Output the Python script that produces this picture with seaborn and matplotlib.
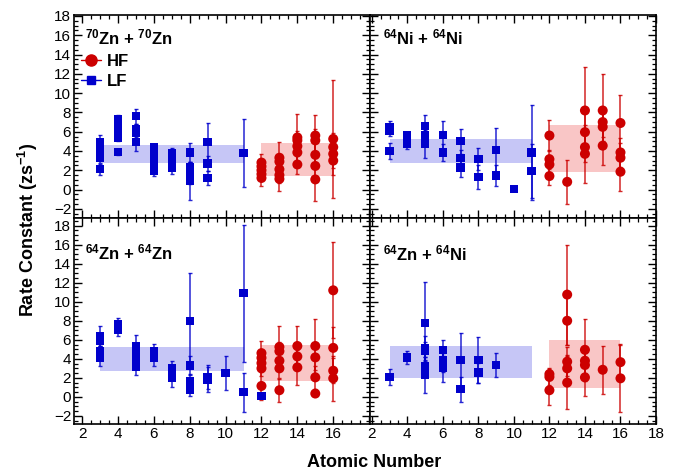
import numpy as np
import pandas as pd
import matplotlib
matplotlib.use("Agg")
import matplotlib.pyplot as plt
from matplotlib.ticker import MultipleLocator
from matplotlib.lines import Line2D
import seaborn as sns

# ---------------- data ----------------
BAND_X_LF = [3, 11]
BAND_X_HF = [12, 16]

# 70Zn + 70Zn
ZN70_LF_X = [3, 3, 3, 3, 3, 4, 4, 4, 4, 4, 4, 5, 5, 5, 5, 6, 6, 6, 6, 6, 6, 7, 7, 7, 7, 8, 8, 8, 8, 8, 9, 9, 9, 11]
ZN70_LF_Y = [4.9, 4.4, 3.7, 3.3, 2.1, 7.3, 6.8, 6.2, 5.7, 5.4, 3.9, 7.6, 6.3, 5.9, 4.9, 4.4, 4.0, 3.5, 3.0, 2.4, 1.9,
             3.8, 3.3, 2.8, 2.3, 3.85, 2.3, 1.75, 1.2, 0.9, 4.9, 2.7, 1.2, 3.8]
ZN70_LF_E = [0.8, 0.5, 0.5, 0.5, 0.6, 0.4, 0.4, 0.4, 0.4, 0.4, 0.3, 0.8, 0.5, 0.5, 0.9, 0.3, 0.4, 0.4, 0.4, 0.4, 0.5,
             0.5, 0.5, 0.5, 0.7, 0.95, 0.6, 1.0, 0.6, 1.95, 2.0, 0.8, 0.7, 3.5]
ZN70_HF_X = [12, 12, 12, 12, 12, 13, 13, 13, 13, 13, 14, 14, 14, 14, 14, 15, 15, 15, 15, 15, 16, 16, 16, 16]
ZN70_HF_Y = [2.8, 2.4, 2.0, 1.6, 1.2, 3.3, 2.9, 2.1, 1.5, 1.1, 5.4, 5.1, 4.5, 3.85, 2.6, 5.6, 5.1, 3.6, 2.45, 1.05,
             5.25, 4.4, 3.7, 3.0]
ZN70_HF_E = [0.85, 0.5, 0.5, 0.5, 0.85, 1.6, 0.8, 0.8, 0.8, 1.3, 2.45, 1.0, 1.0, 1.0, 1.0, 2.1, 1.2, 1.2, 1.2, 2.25,
             6.1, 1.5, 1.5, 1.5]
ZN70_LF_BAND = [2.8, 4.65]
ZN70_HF_BAND = [1.45, 4.8]

# 64Ni + 64Ni
NI64_LF_X = [3, 3, 3, 4, 4, 4, 5, 5, 5, 6, 6, 7, 7, 7, 8, 8, 9, 9, 10, 11, 11]
NI64_LF_Y = [6.5, 6.1, 4.0, 5.6, 5.1, 4.7, 6.6, 5.6, 4.7, 5.65, 3.85, 5.0, 3.3, 2.3, 3.15, 1.3, 4.1, 1.45, 0.07, 3.85, 1.9]
NI64_LF_E = [0.6, 0.5, 0.85, 0.4, 0.4, 0.5, 1.1, 0.8, 1.45, 1.45, 0.85, 1.3, 0.8, 1.0, 1.15, 1.2, 2.3, 1.05, 0.0, 4.9, 2.8]
NI64_HF_X = [12, 12, 12, 12, 13, 14, 14, 14, 14, 15, 15, 15, 15, 16, 16, 16, 16]
NI64_HF_Y = [5.6, 3.15, 2.6, 1.4, 0.8, 8.2, 5.95, 4.4, 3.7, 8.2, 7.0, 6.5, 4.55, 6.9, 3.85, 3.3, 1.85]
NI64_HF_E = [1.65, 1.0, 1.0, 0.9, 2.3, 4.55, 2.0, 1.5, 3.0, 3.8, 1.5, 1.5, 2.0, 2.9, 1.5, 1.5, 2.05]
NI64_LF_BAND = [2.8, 5.2]
NI64_HF_BAND = [1.85, 6.7]

# 64Zn + 64Zn
ZN64_LF_X = [3, 3, 3, 3, 4, 4, 5, 5, 5, 5, 5, 6, 6, 6, 7, 7, 7, 8, 8, 8, 8, 9, 9, 10, 11, 11, 12]
ZN64_LF_Y = [6.4, 5.9, 4.8, 4.1, 7.6, 7.0, 5.3, 4.6, 4.0, 3.6, 3.2, 4.85, 4.4, 4.1, 3.0, 2.3, 1.95, 8.0, 3.3, 1.6, 0.7,
             2.1, 1.8, 2.5, 10.9, 0.5, 0.07]
ZN64_LF_E = [1.0, 0.6, 0.6, 0.9, 0.65, 0.6, 1.2, 0.6, 0.6, 0.6, 0.9, 0.75, 0.5, 0.9, 0.8, 0.5, 0.9, 5.0, 1.0, 0.8, 0.6,
             1.25, 1.3, 1.8, 7.2, 2.05, 0.0]
ZN64_HF_X = [12, 12, 12, 12, 12, 13, 13, 13, 13, 13, 14, 14, 14, 15, 15, 15, 15, 16, 16, 16, 16]
ZN64_HF_Y = [4.6, 4.1, 3.55, 3.0, 1.15, 5.25, 4.8, 3.8, 3.0, 0.7, 5.35, 4.25, 3.1, 5.35, 4.15, 2.05, 0.35,
             11.2, 5.15, 2.75, 1.95]
ZN64_HF_E = [1.3, 0.8, 0.8, 0.8, 1.45, 2.2, 1.0, 1.0, 1.0, 1.2, 2.05, 1.2, 1.85, 2.85, 1.3, 1.2, 0.3,
             5.05, 2.15, 1.3, 2.35]
ZN64_LF_BAND = [2.75, 5.25]
ZN64_HF_BAND = [1.7, 5.5]

# 64Zn + 64Ni
ZNNI_LF_X = [3, 4, 5, 5, 5, 5, 5, 6, 6, 6, 6, 7, 7, 8, 8, 9]
ZNNI_LF_Y = [2.1, 4.15, 7.75, 5.15, 4.8, 3.2, 2.3, 4.9, 3.9, 3.45, 3.1, 3.85, 0.8, 3.9, 2.55, 3.35]
ZNNI_LF_E = [0.85, 0.7, 4.3, 1.3, 1.0, 1.0, 1.85, 1.05, 0.8, 0.8, 1.5, 2.9, 1.3, 2.4, 1.05, 1.3]
ZNNI_HF_X = [12, 12, 12, 13, 13, 13, 13, 13, 14, 14, 14, 14, 15, 16, 16]
ZNNI_HF_Y = [2.4, 2.1, 0.7, 10.75, 8.0, 3.7, 3.0, 1.5, 4.95, 3.8, 3.35, 2.05, 2.85, 3.65, 1.95]
ZNNI_HF_E = [0.6, 0.8, 1.6, 5.25, 2.5, 1.5, 1.4, 2.75, 3.25, 1.3, 1.3, 1.95, 2.5, 1.9, 3.55]
ZNNI_LF_BAND = [2.0, 5.4]
ZNNI_HF_BAND = [0.95, 6.0]

TITLES = [r"$^{\mathbf{70}}$Zn + $^{\mathbf{70}}$Zn", r"$^{\mathbf{64}}$Ni + $^{\mathbf{64}}$Ni",
          r"$^{\mathbf{64}}$Zn + $^{\mathbf{64}}$Zn", r"$^{\mathbf{64}}$Zn + $^{\mathbf{64}}$Ni"]
X_TICKS = [2, 4, 6, 8, 10, 12, 14, 16, 18]
Y_TICKS = [-2, 0, 2, 4, 6, 8, 10, 12, 14, 16, 18]

# ---------------- style ----------------
sns.set_theme(style="white")
plt.rcParams["font.family"] = ["Liberation Sans", "DejaVu Sans"]
plt.rcParams["mathtext.fontset"] = "custom"
plt.rcParams["mathtext.rm"] = "Liberation Sans"
plt.rcParams["mathtext.bf"] = "Liberation Sans:bold"
plt.rcParams["mathtext.it"] = "Liberation Sans:italic"
plt.rcParams["text.color"] = "black"
plt.rcParams["axes.labelcolor"] = "black"
plt.rcParams["xtick.color"] = "black"
plt.rcParams["ytick.color"] = "black"

BLUE = "#0000cc"
RED = "#cc0000"
BAND_BLUE = "#c6c6f6"
BAND_RED = "#f9c6c6"

fig = plt.figure(figsize=(6.85, 4.73), dpi=100)
W, H = 685.0, 473.0
# axes rectangles in pixels (left, top, right, bottom)
rects = [(74, 15, 370, 218), (370, 15, 656, 218), (74, 218, 370, 424), (370, 218, 656, 424)]
xlims = [(1.55, 18.05), (1.9, 18.0), (1.55, 18.05), (1.9, 18.0)]
ylims = [(-2.95, 18.1), (-2.95, 18.1), (-2.85, 18.8), (-2.85, 18.8)]
panels = [
    (ZN70_LF_X, ZN70_LF_Y, ZN70_LF_E, ZN70_HF_X, ZN70_HF_Y, ZN70_HF_E, ZN70_LF_BAND, ZN70_HF_BAND),
    (NI64_LF_X, NI64_LF_Y, NI64_LF_E, NI64_HF_X, NI64_HF_Y, NI64_HF_E, NI64_LF_BAND, NI64_HF_BAND),
    (ZN64_LF_X, ZN64_LF_Y, ZN64_LF_E, ZN64_HF_X, ZN64_HF_Y, ZN64_HF_E, ZN64_LF_BAND, ZN64_HF_BAND),
    (ZNNI_LF_X, ZNNI_LF_Y, ZNNI_LF_E, ZNNI_HF_X, ZNNI_HF_Y, ZNNI_HF_E, ZNNI_LF_BAND, ZNNI_HF_BAND),
]
title_pos = [(0.037, 0.887), (0.045, 0.89), (0.037, 0.835), (0.045, 0.83)]

for i, (rect, pdata) in enumerate(zip(rects, panels)):
    l, t, r, b = rect
    ax = fig.add_axes([l / W, 1 - b / H, (r - l) / W, (b - t) / H])
    lfx, lfy, lfe, hfx, hfy, hfe, lfb, hfb = pdata

    ax.fill_between(BAND_X_LF, [lfb[0]] * 2, [lfb[1]] * 2, color=BAND_BLUE, lw=0, zorder=1)
    ax.fill_between(BAND_X_HF, [hfb[0]] * 2, [hfb[1]] * 2, color=BAND_RED, lw=0, zorder=1)

    ax.errorbar(lfx, lfy, yerr=lfe, fmt="none", ecolor=BLUE, elinewidth=1.1, capsize=1.6,
                capthick=1.0, alpha=0.85, zorder=2)
    ax.errorbar(hfx, hfy, yerr=hfe, fmt="none", ecolor=RED, elinewidth=1.1, capsize=1.6,
                capthick=1.0, alpha=0.85, zorder=2)

    df = pd.DataFrame({
        "x": list(lfx) + list(hfx),
        "y": list(lfy) + list(hfy),
        "kind": ["LF"] * len(lfx) + ["HF"] * len(hfx),
    })
    sns.scatterplot(data=df, x="x", y="y", hue="kind", style="kind", size="kind",
                    palette={"LF": BLUE, "HF": RED}, markers={"LF": "s", "HF": "o"},
                    sizes={"LF": 36, "HF": 52}, linewidth=0, legend=False, ax=ax, zorder=3)

    ax.set_xlim(*xlims[i])
    ax.set_ylim(*ylims[i])
    ax.set_xlabel("")
    ax.set_ylabel("")
    ax.set_xticks(X_TICKS)
    ax.set_yticks(Y_TICKS)
    ax.xaxis.set_minor_locator(MultipleLocator(0.5))
    ax.yaxis.set_minor_locator(MultipleLocator(0.5))
    ax.tick_params(which="both", direction="in", top=True, right=True, bottom=True, left=True,
                   colors="black", labelsize=11, pad=2)
    ax.tick_params(which="major", length=6, width=1.0)
    ax.tick_params(which="minor", length=3, width=0.9)
    for s in ax.spines.values():
        s.set_color("black")
        s.set_linewidth(1.2)
    if i in (1, 3):
        ax.tick_params(labelleft=False)
    if i in (0, 1):
        ax.tick_params(labelbottom=False)
    if i == 2:
        ax.set_xticklabels([str(v) for v in X_TICKS[:-1]] + [""])
    if i in (0, 2):
        ax.set_yticklabels([("\u22122" if v < 0 else str(v)) for v in Y_TICKS])

    ax.text(title_pos[i][0], title_pos[i][1], TITLES[i], transform=ax.transAxes,
            fontsize=12, fontweight="bold", ha="left", va="center")

    if i == 0:
        handles = [
            Line2D([], [], color=RED, marker="o", markersize=8, lw=1.0, label="HF"),
            Line2D([], [], color=BLUE, marker="s", markersize=6.2, lw=1.0, label="LF"),
        ]
        ax.legend(handles=handles, loc="upper left", bbox_to_anchor=(0.025, 0.81), frameon=False,
                  prop={"weight": "bold", "size": 12}, handlelength=1.2, handletextpad=0.3,
                  labelspacing=0.3, borderpad=0, borderaxespad=0)

fig.text(374 / W, 1 - 462 / H, "Atomic Number", ha="center", va="center",
         fontsize=13, fontweight="bold")
fig.text(28 / W, 1 - 230 / H, r"Rate Constant (zs$^{\mathbf{-1}}$)", ha="center", va="center",
         rotation=90, fontsize=13, fontweight="bold")

fig.savefig("out.png", dpi=100)
